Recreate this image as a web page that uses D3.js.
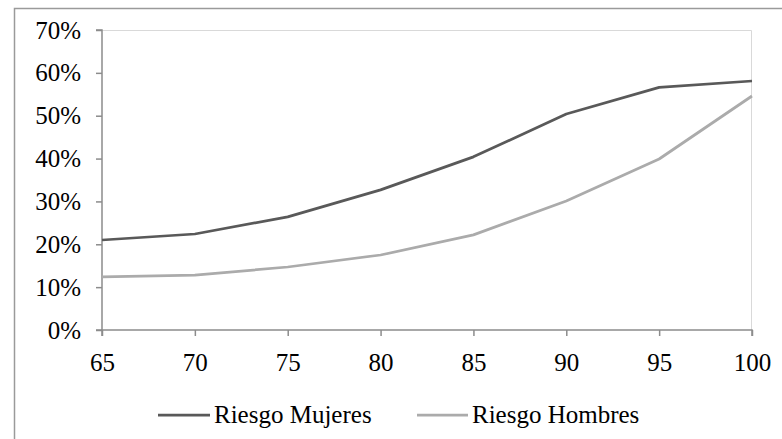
<!DOCTYPE html>
<html>
<head>
<meta charset="utf-8">
<script src="https://cdn.jsdelivr.net/npm/d3@7"></script>
<style>
  html, body { margin: 0; padding: 0; background: #fff; }
  svg { display: block; }
  svg text { font-family: "Liberation Serif", "Times New Roman", serif !important; fill: #000; font-size: 25px; }
</style>
</head>
<body>
<svg id="chart" width="782" height="439"></svg>
<script>
// Edad (años)
const ages = [65, 70, 75, 80, 85, 90, 95, 100];
// Riesgo por sexo (fracción)
const riesgoMujeres = [0.210, 0.224, 0.264, 0.327, 0.404, 0.504, 0.566, 0.581];
const riesgoHombres = [0.124, 0.128, 0.147, 0.175, 0.222, 0.301, 0.399, 0.546];
const yTicks = [0, 0.1, 0.2, 0.3, 0.4, 0.5, 0.6, 0.7];

const series = [
  { name: "Riesgo Mujeres", values: riesgoMujeres, color: "#595959" },
  { name: "Riesgo Hombres", values: riesgoHombres, color: "#ababab" }
];

const svg = d3.select("#chart");
const W = 782, H = 439;
const plot = { left: 102, right: 752, top: 30, bottom: 330 };
const serif = '"Liberation Serif", "Times New Roman", serif';

// Chart frame
svg.append("path")
  .attr("d", `M14.5,${H} L14.5,8.5 L${W},8.5`)
  .attr("fill", "none").attr("stroke", "#9a9a9a").attr("stroke-width", 1.5);

const x = d3.scaleLinear().domain([65, 100]).range([plot.left, plot.right]);
const y = d3.scaleLinear().domain([0, 0.7]).range([plot.bottom, plot.top]);

// Plot area border (top and right)
svg.append("path")
  .attr("d", `M${plot.left},${plot.top + 0.5} L${plot.right - 0.5},${plot.top + 0.5} L${plot.right - 0.5},${plot.bottom}`)
  .attr("fill", "none").attr("stroke", "#d9d9d9").attr("stroke-width", 1);

// Y axis
const yAxis = svg.append("g")
  .attr("transform", `translate(${plot.left},0)`)
  .call(d3.axisLeft(y).tickValues(yTicks).tickFormat(d3.format(".0%")).tickSize(6).tickPadding(15));

// X axis
const xAxis = svg.append("g")
  .attr("transform", `translate(0,${plot.bottom})`)
  .call(d3.axisBottom(x).tickValues(ages).tickFormat(d3.format("d")).tickSize(6).tickPadding(17));

[yAxis, xAxis].forEach(g => {
  g.attr("font-family", serif).attr("font-size", 25);
  g.select(".domain").attr("stroke", "#8c8c8c").attr("stroke-width", 1.5);
  g.selectAll(".tick line").attr("stroke", "#8c8c8c").attr("stroke-width", 1.5);
  g.selectAll(".tick text").attr("font-family", serif).attr("fill", "#000");
});
yAxis.select(".domain").attr("d", `M-6,${plot.bottom}H0V${plot.top}H-6`);
xAxis.select(".domain").attr("d", `M${plot.left},6V0H${plot.right}V6`);

// Lines
const line = d3.line().x((d, i) => x(ages[i])).y(d => y(d));
series.forEach(s => {
  svg.append("path")
    .datum(s.values)
    .attr("d", line)
    .attr("fill", "none")
    .attr("stroke", s.color)
    .attr("stroke-width", 2.75)
    .attr("stroke-linejoin", "round");
});

// Legend
const legendPos = [{ x1: 158, x2: 210, tx: 214 }, { x1: 417, x2: 468, tx: 472 }];
const legend = svg.append("g").attr("font-family", serif);
series.forEach((s, i) => {
  const p = legendPos[i];
  legend.append("line")
    .attr("x1", p.x1).attr("x2", p.x2).attr("y1", 415).attr("y2", 415)
    .attr("stroke", s.color).attr("stroke-width", 2.75);
  legend.append("text")
    .attr("x", p.tx).attr("y", 423)
    .text(s.name);
});
</script>
</body>
</html>
